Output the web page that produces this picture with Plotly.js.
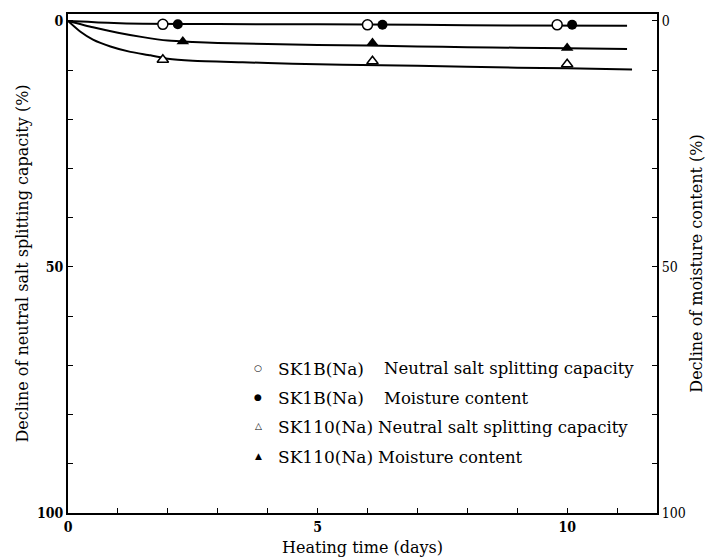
<!DOCTYPE html>
<html>
<head>
<meta charset="utf-8">
<script src="https://cdn.plot.ly/plotly-3.0.1.min.js"></script>
<style>html,body{margin:0;padding:0;background:#fff;}#chart{width:706px;height:557px;}</style>
</head>
<body>
<div id="chart"></div>
<script>
// Measured points
const sk1bNsscX = [1.9, 6.0, 9.8];
const sk1bNsscY = [0.7, 0.8, 0.8];
const sk1bMoistX = [2.2, 6.3, 10.1];
const sk1bMoistY = [0.7, 0.8, 0.8];
const sk110NsscX = [1.9, 6.1, 10.0];
const sk110NsscY = [7.9, 8.2, 8.8];
const sk110MoistX = [2.3, 6.1, 10.0];
const sk110MoistY = [4.2, 4.5, 5.5];

// Fitted curves
const curveSk1bX = [0, 0.4, 0.8, 1.5, 3, 5, 7, 9, 11.2];
const curveSk1bY = [0, 0.2, 0.4, 0.6, 0.65, 0.7, 0.8, 0.95, 1.0];
const curveSk110MoistX = [0, 0.5, 1, 1.5, 2, 2.5, 3, 4, 5, 6, 7, 8, 9, 10, 11.2];
const curveSk110MoistY = [0, 1.3, 2.4, 3.3, 4.0, 4.3, 4.5, 4.7, 4.9, 5.0, 5.2, 5.35, 5.45, 5.55, 5.7];
const curveSk110NsscX = [0, 0.25, 0.5, 0.85, 1.25, 1.65, 2, 2.5, 3.5, 4.5, 5.5, 7, 9, 10, 11.3];
const curveSk110NsscY = [0, 2.2, 3.8, 5.2, 6.3, 7.0, 7.7, 8.1, 8.4, 8.7, 8.9, 9.1, 9.5, 9.6, 9.9];

// Ticks
const xTickVals = [0,1,2,3,4,5,6,7,8,9,10,11];
const xTickText = ['0','','','','','5','','','','','10',''];
const yTickVals = [0,10,20,30,40,50,60,70,80,90,100];
const yTickText = ['0','','','','','50','','','','','100'];

// Legend
const legendSymbols = ['\u25CB','\u25CF','\u25B3','\u25B2'];
const legendSamples = ['SK1B(Na)','SK1B(Na)','SK110(Na)','SK110(Na)'];
const legendProps = ['Neutral salt splitting capacity','Moisture content','Neutral salt splitting capacity','Moisture content'];

const FONT = 'DejaVu Serif, Liberation Serif, serif';
const TICKFONT = 'DejaVu Serif Condensed, DejaVu Serif, serif';
const lineStyle = {color:'#000', width:2, shape:'spline', smoothing:0.6};

const traces = [
  {x:curveSk1bX, y:curveSk1bY, mode:'lines', line:lineStyle, showlegend:false, hoverinfo:'skip'},
  {x:curveSk110MoistX, y:curveSk110MoistY, mode:'lines', line:lineStyle, showlegend:false, hoverinfo:'skip'},
  {x:curveSk110NsscX, y:curveSk110NsscY, mode:'lines', line:lineStyle, showlegend:false, hoverinfo:'skip'},
  {x:sk1bNsscX, y:sk1bNsscY, mode:'markers', name:'SK1B(Na) Neutral salt splitting capacity', showlegend:false,
   marker:{symbol:'circle', size:10, color:'#fff', line:{width:1.5, color:'#000'}}},
  {x:sk1bMoistX, y:sk1bMoistY, mode:'markers', name:'SK1B(Na) Moisture content', showlegend:false,
   marker:{symbol:'circle', size:10, color:'#000'}},
  {x:sk110NsscX, y:sk110NsscY, mode:'markers', name:'SK110(Na) Neutral salt splitting capacity', showlegend:false,
   marker:{symbol:'triangle-up', size:10, color:'#fff', line:{width:1.5, color:'#000'}}},
  {x:sk110MoistX, y:sk110MoistY, mode:'markers', name:'SK110(Na) Moisture content', showlegend:false,
   marker:{symbol:'triangle-up', size:11, color:'#000'}},
  // dummy trace for right axis
  {x:[0], y:[0], yaxis:'y2', mode:'markers', marker:{opacity:0}, showlegend:false, hoverinfo:'skip'}
];

const L = 68, R = 657, T = 14, B = 513;
const W = R - L, H = B - T;
function px(x){ return (x - L) / W; }
function py(y){ return (B - y) / H; }

const rowsY = [369, 398, 427, 457];
const col2X = [382, 382, 376, 376];
const annotations = [];
for (let i = 0; i < 4; i++) {
  annotations.push({xref:'paper', yref:'paper', x:px(258), y:py(rowsY[i] - 1), text:legendSymbols[i],
    showarrow:false, xanchor:'center', yanchor:'middle', font:{family:FONT, size:9, color:'#000'}});
  annotations.push({xref:'paper', yref:'paper', x:px(276), y:py(rowsY[i]), text:legendSamples[i],
    showarrow:false, xanchor:'left', yanchor:'middle', font:{family:FONT, size:17, color:'#000'}});
  annotations.push({xref:'paper', yref:'paper', x:px(col2X[i]), y:py(rowsY[i]), text:legendProps[i],
    showarrow:false, xanchor:'left', yanchor:'middle', font:{family:FONT, size:16.5, color:'#000'}});
}

const layout = {
  width:706, height:557,
  margin:{l:L, r:706-R, t:T, b:557-B, pad:0},
  paper_bgcolor:'#fff', plot_bgcolor:'#fff',
  showlegend:false,
  font:{family:FONT, color:'#000'},
  xaxis:{
    range:[0, 11.8], showgrid:false, zeroline:false,
    showline:true, linewidth:2, linecolor:'#000', mirror:true,
    ticks:'inside', ticklen:5, tickwidth:1, tickcolor:'#000',
    tickvals:xTickVals, ticktext:xTickText,
    tickfont:{family:TICKFONT, size:14, weight:'bold'},
    title:{text:'Heating time (days)', font:{family:FONT, size:16}, standoff:8},
    automargin:false
  },
  yaxis:{
    range:[100, -1.4], showgrid:false, zeroline:false,
    showline:true, linewidth:2, linecolor:'#000',
    ticks:'inside', ticklen:5, tickwidth:1, tickcolor:'#000',
    tickvals:yTickVals, ticktext:yTickText,
    tickfont:{family:TICKFONT, size:14, weight:'bold'},
    title:{text:'Decline of neutral salt splitting capacity (%)', font:{family:FONT, size:16}, standoff:4},
    automargin:false
  },
  yaxis2:{
    overlaying:'y', side:'right', anchor:'x',
    range:[100, -1.4], showgrid:false, zeroline:false,
    showline:true, linewidth:2, linecolor:'#000',
    ticks:'inside', ticklen:5, tickwidth:1, tickcolor:'#000',
    tickvals:yTickVals, ticktext:yTickText,
    tickfont:{family:TICKFONT, size:14},
    title:{text:'Decline of moisture content (%)', font:{family:FONT, size:16}, standoff:6},
    automargin:false
  },
  annotations:annotations
};

Plotly.newPlot('chart', traces, layout, {staticPlot:true, displayModeBar:false});
</script>
</body>
</html>
